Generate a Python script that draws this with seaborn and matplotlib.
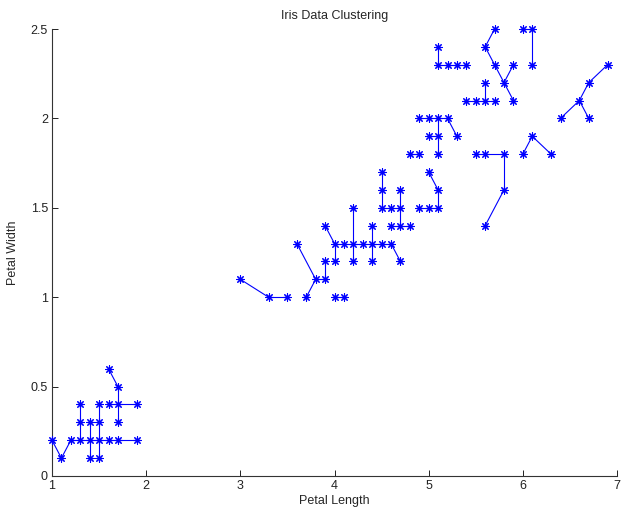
import matplotlib
matplotlib.use("Agg")
import matplotlib.pyplot as plt
import pandas as pd
import seaborn as sns

sns.set_style("ticks")
plt.rcParams["font.family"] = ["Liberation Sans", "DejaVu Sans"]

# distinct (petal length, petal width) pairs in the iris data
petal_length = [
    1.0, 1.1, 1.2, 1.3, 1.3, 1.3, 1.4, 1.4, 1.4, 1.5, 1.5, 1.5, 1.5,
    1.6, 1.6, 1.6, 1.7, 1.7, 1.7, 1.7, 1.9, 1.9,
    3.0, 3.3, 3.5, 3.6, 3.7, 3.8, 3.9, 3.9, 3.9, 4.0, 4.0, 4.0, 4.1, 4.1,
    4.2, 4.2, 4.2, 4.3, 4.4, 4.4, 4.4, 4.5, 4.5, 4.5, 4.5, 4.6, 4.6, 4.6,
    4.7, 4.7, 4.7, 4.7, 4.8, 4.8, 4.9, 4.9, 4.9, 5.0, 5.0, 5.0, 5.0,
    5.1, 5.1, 5.1, 5.1, 5.1, 5.1, 5.1, 5.2, 5.2, 5.3, 5.3, 5.4, 5.4,
    5.5, 5.5, 5.6, 5.6, 5.6, 5.6, 5.6, 5.7, 5.7, 5.7, 5.8, 5.8, 5.8,
    5.9, 5.9, 6.0, 6.0, 6.1, 6.1, 6.1, 6.3, 6.4, 6.6, 6.7, 6.7, 6.9,
]
petal_width = [
    0.2, 0.1, 0.2, 0.2, 0.3, 0.4, 0.1, 0.2, 0.3, 0.1, 0.2, 0.3, 0.4,
    0.2, 0.4, 0.6, 0.2, 0.3, 0.4, 0.5, 0.2, 0.4,
    1.1, 1.0, 1.0, 1.3, 1.0, 1.1, 1.1, 1.2, 1.4, 1.0, 1.2, 1.3, 1.0, 1.3,
    1.2, 1.3, 1.5, 1.3, 1.2, 1.3, 1.4, 1.3, 1.5, 1.6, 1.7, 1.3, 1.4, 1.5,
    1.2, 1.4, 1.5, 1.6, 1.4, 1.8, 1.5, 1.8, 2.0, 1.5, 1.7, 1.9, 2.0,
    1.5, 1.6, 1.8, 1.9, 2.0, 2.3, 2.4, 2.0, 2.3, 1.9, 2.3, 2.1, 2.3,
    1.8, 2.1, 1.4, 1.8, 2.1, 2.2, 2.4, 2.1, 2.3, 2.5, 1.6, 1.8, 2.2,
    2.1, 2.3, 1.8, 2.5, 1.9, 2.3, 2.5, 1.8, 2.0, 2.1, 2.0, 2.2, 2.3,
]

# links drawn between points, as (length, width) pairs
links = [
    ((1.0, 0.2), (1.1, 0.1)), ((1.1, 0.1), (1.2, 0.2)),
    ((1.2, 0.2), (1.3, 0.2)), ((1.3, 0.2), (1.4, 0.2)),
    ((1.4, 0.2), (1.5, 0.2)), ((1.5, 0.2), (1.6, 0.2)),
    ((1.6, 0.2), (1.7, 0.2)), ((1.7, 0.2), (1.9, 0.2)),
    ((1.3, 0.2), (1.3, 0.3)), ((1.3, 0.3), (1.3, 0.4)),
    ((1.4, 0.1), (1.4, 0.2)), ((1.4, 0.2), (1.4, 0.3)),
    ((1.5, 0.1), (1.5, 0.2)), ((1.5, 0.2), (1.5, 0.3)),
    ((1.5, 0.3), (1.5, 0.4)), ((1.6, 0.6), (1.7, 0.5)),
    ((1.7, 0.5), (1.7, 0.4)), ((1.7, 0.4), (1.7, 0.3)),
    ((1.6, 0.4), (1.7, 0.4)), ((1.7, 0.4), (1.9, 0.4)),
    ((3.0, 1.1), (3.3, 1.0)), ((3.3, 1.0), (3.5, 1.0)),
    ((3.6, 1.3), (3.8, 1.1)), ((3.7, 1.0), (3.8, 1.1)),
    ((3.8, 1.1), (3.9, 1.1)), ((3.9, 1.1), (3.9, 1.2)),
    ((3.9, 1.4), (4.0, 1.3)), ((4.0, 1.3), (4.0, 1.2)),
    ((4.0, 1.0), (4.1, 1.0)),
    ((4.0, 1.3), (4.1, 1.3)), ((4.1, 1.3), (4.2, 1.3)),
    ((4.2, 1.3), (4.3, 1.3)), ((4.3, 1.3), (4.4, 1.3)),
    ((4.4, 1.3), (4.5, 1.3)), ((4.5, 1.3), (4.6, 1.3)),
    ((4.6, 1.3), (4.7, 1.2)),
    ((4.2, 1.5), (4.2, 1.3)), ((4.2, 1.3), (4.2, 1.2)),
    ((4.4, 1.4), (4.4, 1.3)), ((4.4, 1.3), (4.4, 1.2)),
    ((4.5, 1.7), (4.5, 1.6)), ((4.5, 1.6), (4.5, 1.5)),
    ((4.5, 1.5), (4.6, 1.5)), ((4.6, 1.5), (4.7, 1.5)),
    ((4.7, 1.6), (4.7, 1.5)), ((4.7, 1.5), (4.7, 1.4)),
    ((4.6, 1.4), (4.7, 1.4)), ((4.7, 1.4), (4.8, 1.4)),
    ((4.8, 1.8), (4.9, 1.8)),
    ((4.9, 1.5), (5.0, 1.5)), ((5.0, 1.5), (5.1, 1.5)),
    ((5.1, 1.5), (5.1, 1.6)), ((5.1, 1.6), (5.0, 1.7)),
    ((4.9, 2.0), (5.0, 2.0)), ((5.0, 2.0), (5.1, 2.0)),
    ((5.1, 2.0), (5.2, 2.0)), ((5.2, 2.0), (5.3, 1.9)),
    ((5.1, 2.0), (5.1, 1.9)), ((5.1, 1.9), (5.1, 1.8)),
    ((5.0, 1.9), (5.1, 1.9)),
    ((5.1, 2.4), (5.1, 2.3)), ((5.1, 2.3), (5.2, 2.3)),
    ((5.2, 2.3), (5.3, 2.3)), ((5.3, 2.3), (5.4, 2.3)),
    ((5.4, 2.1), (5.5, 2.1)), ((5.5, 2.1), (5.6, 2.1)),
    ((5.6, 2.1), (5.7, 2.1)), ((5.6, 2.2), (5.6, 2.1)),
    ((5.7, 2.5), (5.6, 2.4)), ((5.6, 2.4), (5.7, 2.3)),
    ((5.7, 2.3), (5.8, 2.2)), ((5.9, 2.3), (5.8, 2.2)),
    ((5.8, 2.2), (5.9, 2.1)),
    ((6.0, 2.5), (6.1, 2.5)), ((6.1, 2.5), (6.1, 2.3)),
    ((5.5, 1.8), (5.6, 1.8)), ((5.6, 1.8), (5.8, 1.8)),
    ((5.8, 1.8), (5.8, 1.6)), ((5.8, 1.6), (5.6, 1.4)),
    ((6.0, 1.8), (6.1, 1.9)), ((6.1, 1.9), (6.3, 1.8)),
    ((6.9, 2.3), (6.7, 2.2)), ((6.7, 2.2), (6.6, 2.1)),
    ((6.6, 2.1), (6.4, 2.0)), ((6.6, 2.1), (6.7, 2.0)),
]

points = pd.DataFrame({"Petal Length": petal_length, "Petal Width": petal_width})
rows = []
for i, (a, b) in enumerate(links):
    rows.append((a[0], a[1], i))
    rows.append((b[0], b[1], i))
segs = pd.DataFrame(rows, columns=["Petal Length", "Petal Width", "link"])

fig = plt.figure(figsize=(6.21, 5.12), dpi=100)
ax = fig.add_axes([52 / 621, 36 / 512, 565 / 621, 447 / 512])

sns.lineplot(data=segs, x="Petal Length", y="Petal Width", units="link",
             estimator=None, sort=False, color="blue", linewidth=0.8,
             clip_on=False, ax=ax)
sns.scatterplot(data=points, x="Petal Length", y="Petal Width",
                marker=(8, 2, 0), s=30, color="blue", linewidth=0.8,
                clip_on=False, zorder=3, ax=ax)

ax.set_xlim(1, 7)
ax.set_ylim(0, 2.5)
ax.set_xticks([1, 2, 3, 4, 5, 6, 7])
ax.set_yticks([0, 0.5, 1, 1.5, 2, 2.5])
ax.set_yticklabels(["0", "0.5", "1", "1.5", "2", "2.5"])
ax.tick_params(direction="in", length=4, width=0.7, labelsize=9, pad=3, colors="#222222")
sns.despine(ax=ax)
for s in ["left", "bottom"]:
    ax.spines[s].set_linewidth(0.8)
    ax.spines[s].set_color("#333333")

ax.set_xlabel("Petal Length", fontsize=9, labelpad=2)
ax.set_ylabel("Petal Width", fontsize=9, labelpad=8)
ax.set_title("Iris Data Clustering", fontsize=9, pad=7)

fig.savefig("out.png", dpi=100)
